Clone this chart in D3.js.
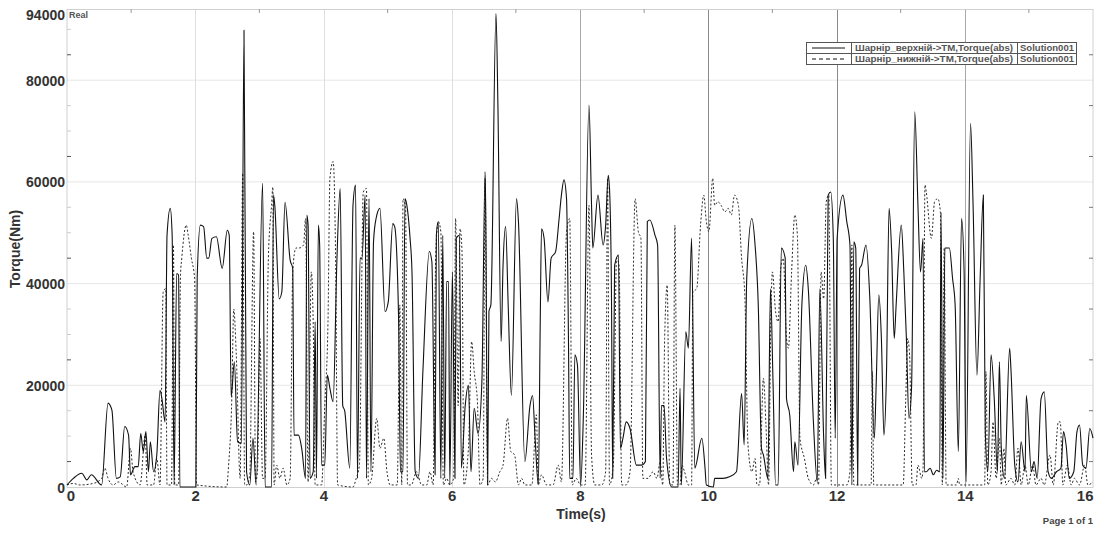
<!DOCTYPE html>
<html><head><meta charset="utf-8">
<script src="https://cdn.jsdelivr.net/npm/d3@7"></script>
<style>
html,body{margin:0;padding:0;background:#fff;}
svg{display:block;font-family:"Liberation Sans",Arial,sans-serif;}
</style></head>
<body><svg id="chart" width="1098" height="533"></svg>
<script>
// ---- data (time s, torque Nm) ----
const upperSeries = [[0,400],[0.1,1700],[0.23,2700],[0.31,1400],[0.38,2400],[0.54,400],[0.64,16500],[0.70,15100],[0.77,1700],[0.83,2000],[0.90,11900],[0.96,10200],[0.99,2400],[1.06,4000],[1.11,4000],[1.15,10500],[1.19,6900],[1.23,10900],[1.27,3000],[1.30,8900],[1.35,3000],[1.40,6300],[1.45,19000],[1.48,17400],[1.53,12800],[1.56,49500],[1.61,54800],[1.64,49500],[1.67,400],[1.71,42000],[1.74,41700],[1.76,0],[2.01,0],[2.03,41000],[2.08,51500],[2.13,51200],[2.18,45000],[2.21,45000],[2.26,48900],[2.33,49200],[2.42,43000],[2.50,50500],[2.53,49500],[2.56,17700],[2.61,24600],[2.66,8900],[2.72,8600],[2.76,89800],[2.80,3000],[2.85,400],[2.90,9600],[2.95,400],[3.05,59700],[3.09,0],[3.19,0],[3.22,57400],[3.24,55400],[3.31,37000],[3.35,38400],[3.40,56000],[3.48,44600],[3.52,43000],[3.54,10200],[3.61,10200],[3.66,7600],[3.72,1700],[3.74,53500],[3.76,51500],[3.79,1700],[3.84,3000],[3.87,32500],[3.89,1700],[3.92,51500],[3.94,47600],[3.97,4300],[4.02,4300],[4.06,22000],[4.10,19400],[4.15,16800],[4.21,45000],[4.26,58700],[4.30,16000],[4.33,15000],[4.41,3700],[4.46,55400],[4.50,59400],[4.53,1700],[4.57,45000],[4.60,45000],[4.65,57400],[4.67,1700],[4.71,56700],[4.74,3000],[4.78,48200],[4.82,52800],[4.88,54800],[4.96,34500],[5.01,36400],[5.08,51800],[5.11,51200],[5.17,33800],[5.20,3000],[5.24,3000],[5.27,56700],[5.30,55400],[5.35,48900],[5.38,42300],[5.43,3000],[5.48,1700],[5.55,22700],[5.65,46300],[5.69,44300],[5.74,2400],[5.76,49500],[5.79,52200],[5.83,1700],[5.86,49500],[5.89,1700],[5.92,40400],[5.95,40400],[5.97,400],[6.01,42300],[6.05,1700],[6.07,48900],[6.12,49500],[6.15,3700],[6.21,16000],[6.26,20000],[6.30,3000],[6.35,15500],[6.41,10500],[6.47,20700],[6.52,62000],[6.53,54000],[6.56,400],[6.58,34500],[6.61,35800],[6.69,93100],[6.72,75000],[6.77,28600],[6.80,43600],[6.84,51200],[6.88,35800],[6.93,18000],[7.01,56700],[7.04,52200],[7.14,5000],[7.22,16000],[7.26,18000],[7.30,9600],[7.35,400],[7.38,32500],[7.40,50800],[7.44,48900],[7.50,36400],[7.55,45000],[7.62,46300],[7.67,52200],[7.71,57400],[7.75,60400],[7.79,56700],[7.82,29200],[7.84,1700],[7.89,1700],[7.92,26000],[7.96,24000],[8.01,400],[8.05,12800],[8.14,75100],[8.18,55400],[8.20,47000],[8.28,57400],[8.36,47600],[8.40,51500],[8.44,61300],[8.46,58700],[8.49,39000],[8.51,1700],[8.54,43600],[8.60,45600],[8.63,7600],[8.67,9600],[8.72,12800],[8.78,11500],[8.88,4300],[8.96,4300],[9.02,5000],[9.05,52200],[9.09,52500],[9.17,49500],[9.21,47600],[9.25,1700],[9.27,16000],[9.31,16000],[9.35,5600],[9.43,0],[9.53,0],[9.56,19400],[9.58,400],[9.65,30500],[9.69,27300],[9.74,48900],[9.79,3700],[9.90,9600],[9.95,3700],[9.97,400],[10.08,0],[10.10,1700],[10.23,1700],[10.33,2000],[10.44,3000],[10.52,18400],[10.56,8300],[10.60,41000],[10.68,52800],[10.73,47600],[10.78,35800],[10.83,7600],[10.86,6300],[10.93,1700],[10.97,39000],[11.01,20700],[11.05,400],[11.09,400],[11.14,47000],[11.20,45000],[11.22,17400],[11.27,14200],[11.33,3000],[11.35,8900],[11.40,4300],[11.46,35800],[11.52,43600],[11.56,39000],[11.64,12800],[11.70,1000],[11.74,39000],[11.80,9600],[11.83,1700],[11.87,57400],[11.91,58000],[11.95,48900],[11.98,9600],[12.01,48900],[12.10,57400],[12.16,52200],[12.21,47600],[12.24,400],[12.27,48200],[12.30,47000],[12.33,400],[12.36,43000],[12.39,43600],[12.46,47600],[12.52,37000],[12.59,9600],[12.62,20700],[12.66,37800],[12.70,29200],[12.74,10200],[12.78,22700],[12.82,54800],[12.86,46300],[12.90,29200],[12.93,35800],[13.01,51500],[13.05,42300],[13.09,29200],[13.13,13500],[13.17,19400],[13.22,73800],[13.27,55400],[13.31,42300],[13.35,48900],[13.37,3000],[13.40,3000],[13.46,3700],[13.51,2400],[13.56,3300],[13.61,3000],[13.63,54000],[13.66,1700],[13.69,47000],[13.76,47000],[13.81,41000],[13.85,35800],[13.90,7000],[13.95,52800],[13.99,42300],[14.02,1000],[14.09,71500],[14.13,55400],[14.19,22000],[14.24,41000],[14.29,57400],[14.32,10900],[14.36,3000],[14.41,26000],[14.46,17400],[14.51,3000],[14.54,24600],[14.57,7600],[14.62,1700],[14.70,27300],[14.72,23300],[14.78,4300],[14.83,1000],[14.88,8900],[14.94,3000],[14.96,18000],[15.04,3000],[15.08,5000],[15.13,1700],[15.19,17400],[15.24,18700],[15.30,3000],[15.35,1700],[15.43,3000],[15.50,3700],[15.54,10900],[15.58,8300],[15.63,1700],[15.70,3000],[15.75,10900],[15.79,12200],[15.84,4300],[15.89,3700],[15.95,11500],[16.0,9600]];

const lowerSeries = [[0,400],[0.1,700],[0.2,400],[0.41,700],[0.54,1700],[0.59,3700],[0.64,1700],[0.72,400],[0.80,1000],[0.93,0],[0.99,7600],[1.03,3000],[1.14,400],[1.22,10200],[1.25,400],[1.35,400],[1.40,5600],[1.45,400],[1.50,38400],[1.54,39000],[1.56,400],[1.63,400],[1.66,47600],[1.68,400],[1.74,400],[1.77,41700],[1.79,45000],[1.86,51500],[1.89,49500],[1.94,45000],[1.99,41000],[2.02,400],[2.49,0],[2.52,4300],[2.57,17400],[2.60,35000],[2.64,26000],[2.70,1700],[2.74,61700],[2.77,400],[2.80,400],[2.85,2400],[2.91,50200],[2.94,1000],[2.97,3000],[3.01,29200],[3.05,1700],[3.09,1700],[3.14,45000],[3.19,55400],[3.21,59000],[3.23,400],[3.27,4300],[3.32,1700],[3.37,3700],[3.43,400],[3.48,1700],[3.52,42300],[3.57,47000],[3.62,47000],[3.69,47600],[3.72,52800],[3.76,1000],[3.81,42300],[3.84,31800],[3.87,400],[3.97,400],[4.02,16000],[4.07,32500],[4.10,60700],[4.15,64000],[4.19,43600],[4.22,400],[4.46,0],[4.51,1700],[4.56,4300],[4.62,58000],[4.67,58700],[4.70,400],[4.75,1700],[4.83,13500],[4.88,7600],[4.94,9600],[4.99,3000],[5.04,400],[5.15,400],[5.19,35800],[5.22,400],[5.24,56700],[5.28,54800],[5.31,400],[5.37,400],[5.45,3000],[5.53,400],[5.61,400],[5.66,3000],[5.71,400],[5.75,45600],[5.79,52200],[5.83,50200],[5.87,400],[5.92,1700],[5.97,400],[6.03,1700],[6.06,52800],[6.10,16000],[6.13,50800],[6.16,46300],[6.19,400],[6.26,7600],[6.31,28600],[6.35,22700],[6.40,16800],[6.44,400],[6.49,1700],[6.52,60700],[6.56,400],[6.62,1700],[6.68,1000],[6.75,3000],[6.80,4300],[6.87,13500],[6.92,7000],[6.98,6300],[7.04,400],[7.09,1700],[7.14,400],[7.25,400],[7.32,14200],[7.35,400],[7.40,2400],[7.48,400],[7.58,400],[7.66,4300],[7.71,1000],[7.79,50200],[7.84,52800],[7.88,400],[7.94,1700],[8.01,400],[8.08,400],[8.14,55400],[8.18,6300],[8.23,400],[8.34,400],[8.40,3000],[8.43,60700],[8.46,400],[8.52,4300],[8.57,45000],[8.61,43600],[8.65,400],[8.72,400],[8.78,3000],[8.86,56700],[8.91,50200],[8.95,48900],[8.98,1700],[9.06,1700],[9.14,3000],[9.20,1700],[9.25,5000],[9.29,400],[9.32,29200],[9.36,39700],[9.40,400],[9.45,400],[9.48,51500],[9.52,400],[9.56,400],[9.59,4300],[9.63,3000],[9.69,400],[9.74,400],[9.76,38400],[9.82,39000],[9.88,51500],[9.93,57400],[9.97,52200],[10.01,50200],[10.07,60700],[10.10,55400],[10.15,56100],[10.20,55400],[10.26,54100],[10.31,54800],[10.36,53500],[10.41,57400],[10.47,55400],[10.52,45000],[10.57,37800],[10.62,8300],[10.68,3000],[10.73,5600],[10.76,400],[10.80,400],[10.86,21400],[10.90,12200],[10.94,400],[10.98,35800],[11.00,42300],[11.05,34500],[11.09,32500],[11.13,43000],[11.17,45000],[11.22,29200],[11.25,27300],[11.30,42300],[11.35,53500],[11.39,49500],[11.43,9600],[11.50,5600],[11.56,1700],[11.64,400],[11.69,1700],[11.72,400],[11.76,42300],[11.80,37000],[11.84,56100],[11.88,57400],[11.92,400],[12.16,400],[12.21,3000],[12.24,47600],[12.27,400],[12.54,400],[12.56,22700],[12.58,400],[13.04,400],[13.08,17400],[13.11,29200],[13.14,26000],[13.18,400],[13.24,400],[13.27,4300],[13.33,1700],[13.35,3700],[13.38,59400],[13.40,58000],[13.48,48900],[13.53,56100],[13.58,56700],[13.62,54100],[13.65,400],[13.68,47000],[13.71,400],[13.87,400],[13.90,1700],[13.92,400],[14.31,400],[14.33,22700],[14.36,400],[14.41,3000],[14.44,12800],[14.49,1700],[14.54,9600],[14.57,400],[14.61,7600],[14.64,400],[14.72,1700],[14.78,400],[14.83,7600],[14.88,400],[14.94,4300],[14.99,400],[15.06,4300],[15.11,400],[15.19,1700],[15.24,400],[15.33,6300],[15.38,400],[15.46,12800],[15.49,12800],[15.53,400],[15.60,4300],[15.66,400],[15.71,1700],[15.79,400],[15.87,4300],[15.92,400],[16.0,1000]];

const yTickValues = [0, 20000, 40000, 60000, 80000, 94000];
const xTickValues = [0, 2, 4, 6, 8, 10, 12, 14, 16];
const legendNames = ["Шарнір_верхній->TM,Torque(abs)", "Шарнір_нижній->TM,Torque(abs)"];
const legendSolution = ["Solution001", "Solution001"];

// ---- layout ----
const svg = d3.select("#chart");
const x = d3.scaleLinear().domain([0, 16]).range([67, 1093]);
const y = d3.scaleLinear().domain([0, 94000]).range([487, 9]);

// grid
const gridColor = t => (t >= 8 && t <= 14) ? (t === 8 || t === 14 ? "#a8a8a8" : "#8a8a8a") : "#dedede";
svg.append("g").selectAll("line").data([20000, 40000, 60000, 80000]).join("line")
  .attr("x1", x(0)).attr("x2", x(16)).attr("y1", d => y(d)).attr("y2", d => y(d))
  .attr("stroke", "#e6e6e6").attr("stroke-width", 1);
svg.append("g").selectAll("line").data([2, 4, 6, 8, 10, 12, 14]).join("line")
  .attr("x1", d => Math.round(x(d)) + 0.5).attr("x2", d => Math.round(x(d)) + 0.5)
  .attr("y1", y(94000)).attr("y2", y(0))
  .attr("stroke", d => gridColor(d)).attr("stroke-width", 1);

// frame
svg.append("rect").attr("x", x(0)).attr("y", y(94000) + 0.5)
  .attr("width", x(16) - x(0)).attr("height", y(0) - y(94000))
  .attr("fill", "none").attr("stroke", "#d0d0d0");

// minor ticks
const minorY = d3.range(5000, 94000, 5000).filter(v => v % 20000 !== 0);
svg.append("g").selectAll("line").data(minorY).join("line")
  .attr("x1", x(0)).attr("x2", x(0) + 4).attr("y1", d => y(d)).attr("y2", d => y(d))
  .attr("stroke", d => ((d - 5000) % 20000 === 0) ? "#555" : "#ccc");
svg.append("g").selectAll("line").data(d3.range(5000, 94000, 10000)).join("line")
  .attr("x1", x(16) - 4).attr("x2", x(16)).attr("y1", d => y(d)).attr("y2", d => y(d))
  .attr("stroke", "#777");
svg.append("g").selectAll("line").data([1, 3, 5, 7, 9, 11, 13, 15]).join("line")
  .attr("x1", d => x(d)).attr("x2", d => x(d)).attr("y1", y(94000)).attr("y2", y(94000) + 4)
  .attr("stroke", "#999");

// series
const line = d3.line().x(d => x(d[0])).y(d => y(d[1])).curve(d3.curveMonotoneX);
svg.append("path").datum(lowerSeries).attr("d", line)
  .attr("fill", "none").attr("stroke", "#2a2a2a").attr("stroke-width", 1)
  .attr("stroke-dasharray", "2,2");
svg.append("path").datum(upperSeries).attr("d", line)
  .attr("fill", "none").attr("stroke", "#111").attr("stroke-width", 1.1);

// axes
const yAxis = svg.append("g").attr("transform", `translate(${x(0)},0)`)
  .call(d3.axisLeft(y).tickValues(yTickValues).tickSize(0).tickPadding(2).tickFormat(d3.format("d")));
yAxis.select(".domain").remove();
yAxis.selectAll("text").attr("font-size", 14).attr("font-weight", "bold").attr("fill", "#333")
  .attr("font-family", "Liberation Sans, Arial, sans-serif")
  .attr("dy", d => d === 94000 ? "0.78em" : "0.36em");

const xAxis = svg.append("g").attr("transform", `translate(0,${y(0)})`)
  .call(d3.axisBottom(x).tickValues(xTickValues).tickSize(0).tickPadding(3).tickFormat(d3.format("d")));
xAxis.select(".domain").remove();
xAxis.selectAll("text").attr("font-size", 15).attr("font-weight", "bold").attr("fill", "#333")
  .attr("font-family", "Liberation Sans, Arial, sans-serif")
  .attr("text-anchor", d => d === 0 ? "start" : d === 16 ? "end" : "middle")
  .attr("dx", d => d === 16 ? "0.0em" : d === 0 ? "-0.05em" : 0);

// labels
svg.append("text").attr("x", 581).attr("y", 519).attr("text-anchor", "middle")
  .attr("font-size", 14).attr("font-weight", "bold").attr("fill", "#333").text("Time(s)");
svg.append("text").attr("transform", "translate(20,249) rotate(-90)").attr("text-anchor", "middle")
  .attr("font-size", 14).attr("font-weight", "bold").attr("fill", "#333").text("Torque(Nm)");
svg.append("text").attr("x", 69).attr("y", 18).attr("font-size", 9).attr("font-weight", "bold")
  .attr("fill", "#555").text("Real");
svg.append("text").attr("x", 1093).attr("y", 524).attr("text-anchor", "end")
  .attr("font-size", 9.5).attr("font-weight", "bold").attr("fill", "#444").text("Page 1 of 1");

// legend
const lg = svg.append("g");
const lx = [806, 851, 1017, 1076], ly = [42, 53, 64];
lg.append("rect").attr("x", lx[0] + 0.5).attr("y", ly[0] + 0.5).attr("width", lx[3] - lx[0]).attr("height", ly[2] - ly[0])
  .attr("fill", "#fff").attr("stroke", "#555");
lg.append("line").attr("x1", lx[0]).attr("x2", lx[3]).attr("y1", ly[1] + 0.5).attr("y2", ly[1] + 0.5).attr("stroke", "#555");
[lx[1], lx[2]].forEach(v => lg.append("line").attr("x1", v + 0.5).attr("x2", v + 0.5).attr("y1", ly[0]).attr("y2", ly[2]).attr("stroke", "#555"));
legendNames.forEach((n, i) => {
  const cy = (ly[i] + ly[i + 1]) / 2 + 0.5;
  lg.append("line").attr("x1", 812).attr("x2", 845).attr("y1", cy).attr("y2", cy)
    .attr("stroke", "#111").attr("stroke-dasharray", i === 1 ? "4,3" : null);
  lg.append("text").attr("x", 855).attr("y", cy + 3.3).attr("font-size", 9).attr("font-weight", "bold")
    .attr("fill", "#555").attr("textLength", 158).attr("lengthAdjust", "spacingAndGlyphs").text(n);
  lg.append("text").attr("x", 1020).attr("y", cy + 3.3).attr("font-size", 9).attr("font-weight", "bold")
    .attr("fill", "#555").attr("textLength", 54).attr("lengthAdjust", "spacingAndGlyphs").text(legendSolution[i]);
});
</script></body></html>
